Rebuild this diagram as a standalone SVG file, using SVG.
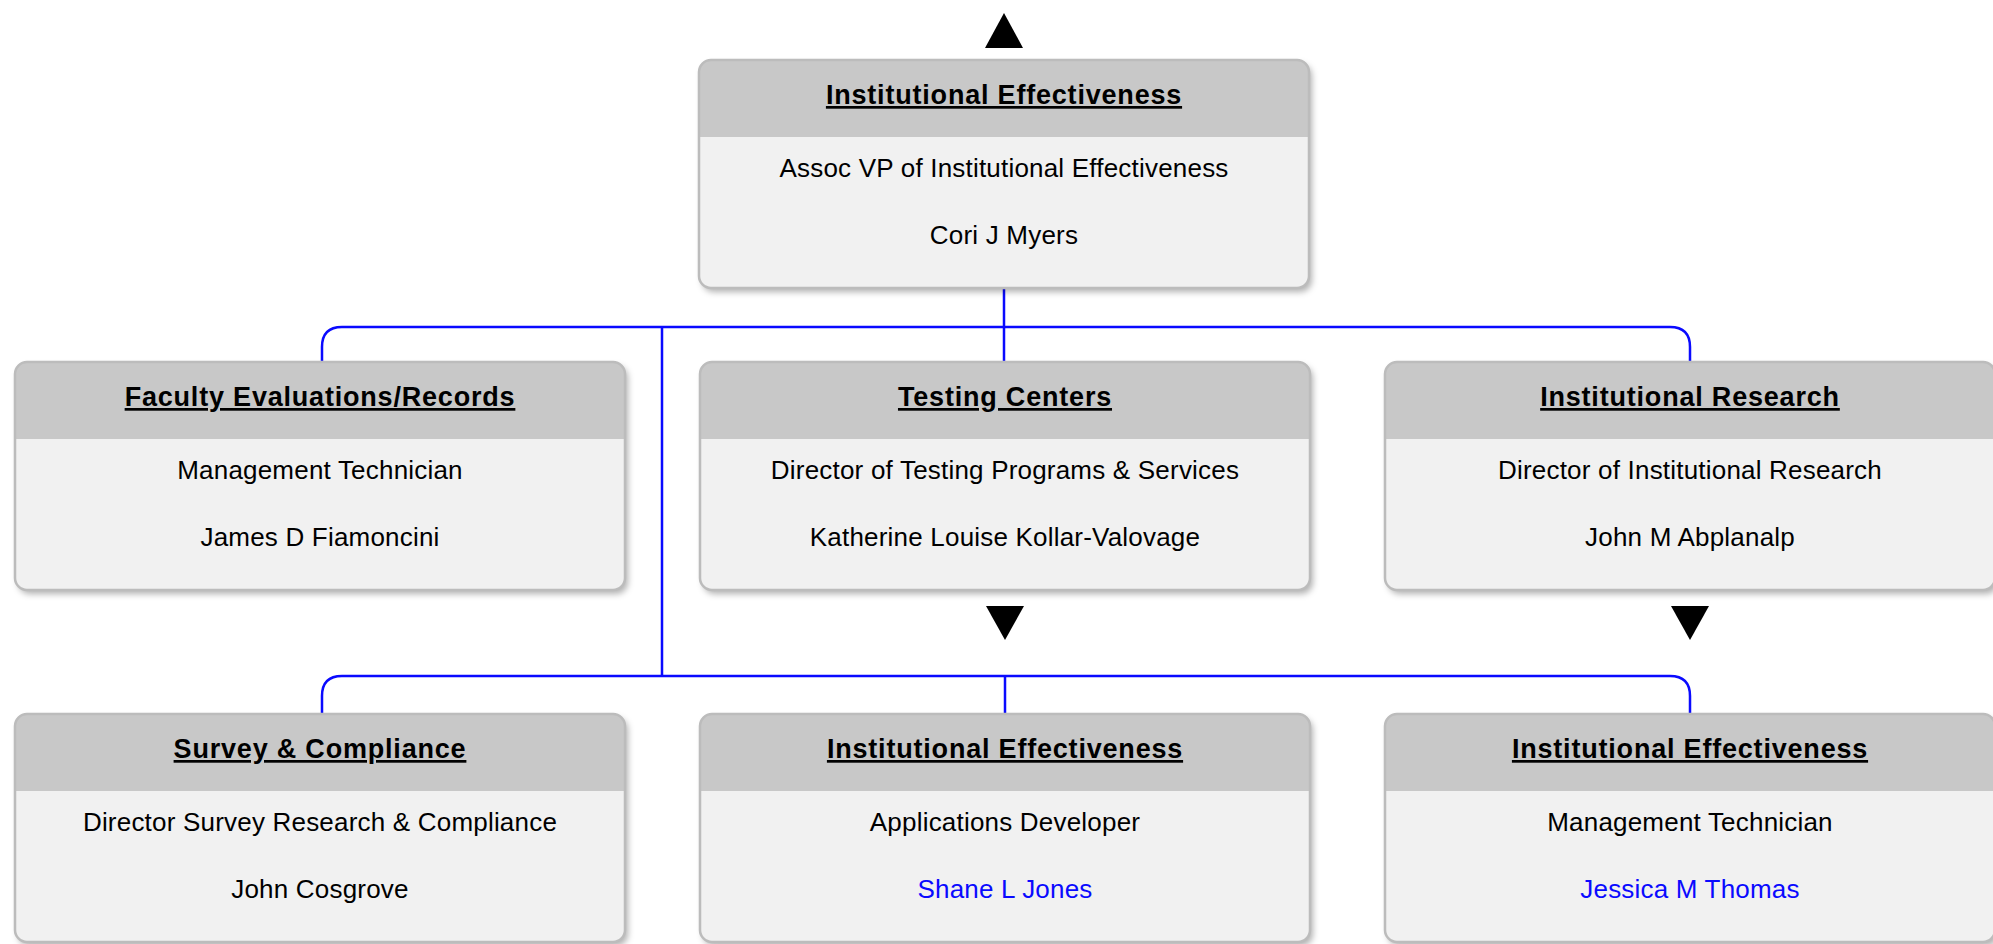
<svg xmlns="http://www.w3.org/2000/svg" width="1993" height="944" viewBox="0 0 1993 944">
<style>
.body{fill:#f1f1f1}
.head{fill:#c8c8c8}
.frame{fill:none;stroke:#bcbcbc;stroke-width:2.5}
.title{font-family:"Liberation Sans",Arial,sans-serif;font-weight:bold;font-size:27px;letter-spacing:0.8px;text-anchor:middle;text-decoration:underline;fill:#000}
.txt{font-family:"Liberation Sans",Arial,sans-serif;font-size:26px;letter-spacing:0.2px;text-anchor:middle;fill:#000}
.blue{fill:#0a0aff}
.conn{fill:none;stroke:#0a0aff;stroke-width:2.5}
.tri{fill:#000}
</style>
<defs>
<filter id="sh" x="-5%" y="-5%" width="112%" height="115%">
<feDropShadow dx="3" dy="4" stdDeviation="3" flood-color="#000" flood-opacity="0.3"/>
</filter>
<g id="box">
<rect x="0" y="0" width="610" height="228" rx="12" class="body" filter="url(#sh)"/>
<path d="M0 77 V12 Q0 0 12 0 H598 Q610 0 610 12 V77 Z" class="head"/>
<rect x="0" y="0" width="610" height="228" rx="12" class="frame"/>
</g>
</defs>

<g id="connectors">
<path class="conn" d="M1004 288 V362"/>
<path class="conn" d="M322 362 V347 Q322 327 342 327 H1670 Q1690 327 1690 347 V362"/>
<path class="conn" d="M662 327 V676"/>
<path class="conn" d="M322 714 V696 Q322 676 342 676 H1670 Q1690 676 1690 696 V714"/>
<path class="conn" d="M1005 676 V714"/>
</g>

<g id="arrows">
<polygon class="tri" points="1004,13 1023,48 985,48"/>
<polygon class="tri" points="986,606 1024,606 1005,640"/>
<polygon class="tri" points="1671,606 1709,606 1690,640"/>
</g>

<g id="node-top" transform="translate(699,60)">
<use href="#box"/>
<text class="title" x="305" y="44">Institutional Effectiveness</text>
<text class="txt" x="305" y="117">Assoc VP of Institutional Effectiveness</text>
<text class="txt" x="305" y="184">Cori J Myers</text>
</g>

<g id="node-faculty" transform="translate(15,362)">
<use href="#box"/>
<text class="title" x="305" y="44">Faculty Evaluations/Records</text>
<text class="txt" x="305" y="117">Management Technician</text>
<text class="txt" x="305" y="184">James D Fiamoncini</text>
</g>

<g id="node-testing" transform="translate(700,362)">
<use href="#box"/>
<text class="title" x="305" y="44">Testing Centers</text>
<text class="txt" x="305" y="117">Director of Testing Programs &amp; Services</text>
<text class="txt" x="305" y="184">Katherine Louise Kollar-Valovage</text>
</g>

<g id="node-research" transform="translate(1385,362)">
<use href="#box"/>
<text class="title" x="305" y="44">Institutional Research</text>
<text class="txt" x="305" y="117">Director of Institutional Research</text>
<text class="txt" x="305" y="184">John M Abplanalp</text>
</g>

<g id="node-survey" transform="translate(15,714)">
<use href="#box"/>
<text class="title" x="305" y="44">Survey &amp; Compliance</text>
<text class="txt" x="305" y="117">Director Survey Research &amp; Compliance</text>
<text class="txt" x="305" y="184">John Cosgrove</text>
</g>

<g id="node-appdev" transform="translate(700,714)">
<use href="#box"/>
<text class="title" x="305" y="44">Institutional Effectiveness</text>
<text class="txt" x="305" y="117">Applications Developer</text>
<text class="txt blue" x="305" y="184">Shane L Jones</text>
</g>

<g id="node-mgmt" transform="translate(1385,714)">
<use href="#box"/>
<text class="title" x="305" y="44">Institutional Effectiveness</text>
<text class="txt" x="305" y="117">Management Technician</text>
<text class="txt blue" x="305" y="184">Jessica M Thomas</text>
</g>
</svg>
